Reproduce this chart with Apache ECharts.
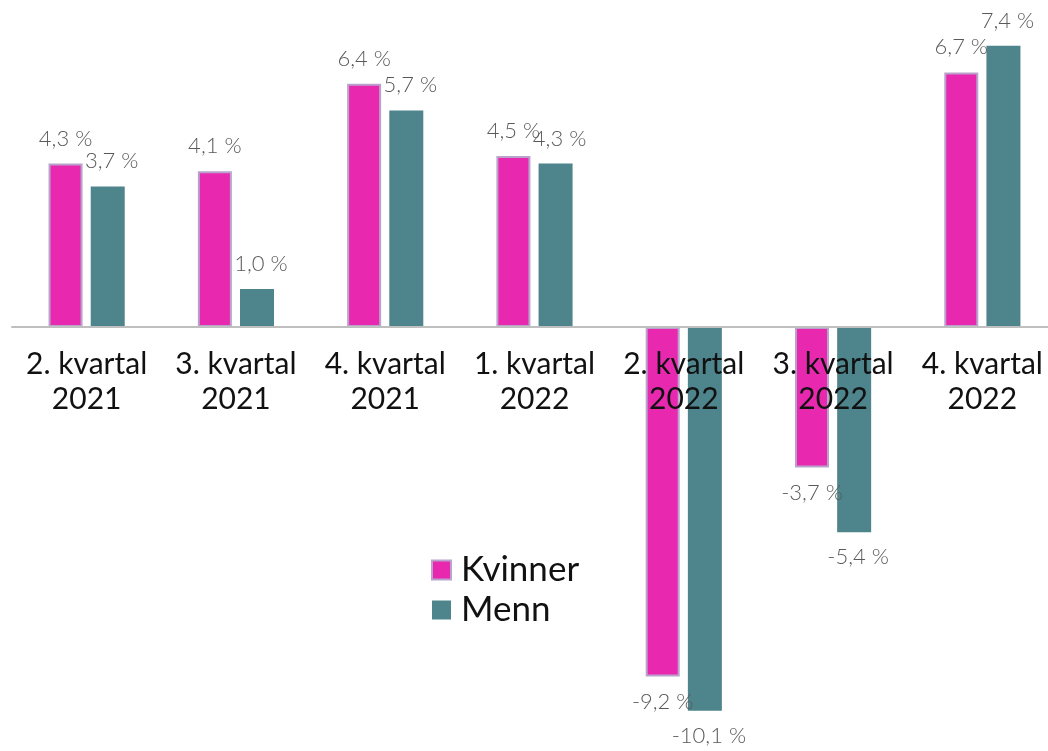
<!DOCTYPE html>
<html>
<head>
<meta charset="utf-8">
<script src="https://cdn.jsdelivr.net/npm/echarts@6/dist/echarts.min.js"></script>
<style>
  html, body { margin: 0; padding: 0; background: #fff; }
  #chart { width: 1048px; height: 751px; }
</style>
</head>
<body>
<div id="chart"></div>
<script>
// kategorier og verdier
const quarters = [
  '2. kvartal\n2021', '3. kvartal\n2021', '4. kvartal\n2021', '1. kvartal\n2022',
  '2. kvartal\n2022', '3. kvartal\n2022', '4. kvartal\n2022'
];
const kvinner = [4.3, 4.1, 6.4, 4.5, -9.2, -3.7, 6.7];
const menn = [3.7, 1.0, 5.7, 4.3, -10.1, -5.4, 7.4];

const fmt = v => v.toFixed(1).replace('.', ',') + ' %';

function withLabels(values) {
  return values.map(v => ({
    value: v,
    label: { position: v < 0 ? 'bottom' : 'top' }
  }));
}

const chart = echarts.init(document.getElementById('chart'));

const labelStyle = {
  show: true,
  formatter: p => fmt(p.value),
  fontFamily: 'Lato',
  fontWeight: 300,
  fontSize: 22,
  color: '#595959',
  distance: 14
};

const option = {
  animation: false,
  textStyle: { fontFamily: 'Lato' },
  grid: { left: 12, top: 23, width: 1045, height: 722, containLabel: false, outerBoundsMode: 'none' },
  legend: {
    orient: 'vertical',
    left: 426,
    top: 547,
    itemWidth: 19,
    itemHeight: 19,
    itemGap: 4,
    icon: 'rect',
    textStyle: { fontSize: 35, lineHeight: 36, color: '#111', fontFamily: 'Lato', padding: [0, 0, 0, 5] },
    data: ['Kvinner', 'Menn']
  },
  xAxis: {
    type: 'category',
    data: quarters,
    position: 'bottom',
    offset: -418,
    z: 5,
    axisLine: { onZero: false, lineStyle: { color: '#bfbfbf', width: 2 } },
    axisTick: { show: false },
    axisLabel: {
      interval: 0,
      hideOverlap: false,
      fontSize: 30,
      color: '#111',
      lineHeight: 35,
      margin: 20,
      fontFamily: 'Lato'
    }
  },
  yAxis: {
    type: 'value',
    min: -11,
    max: 8,
    show: false,
    splitLine: { show: false }
  },
  series: [
    {
      name: 'Kvinner',
      type: 'bar',
      data: withLabels(kvinner),
      barWidth: 34,
      barGap: '24%',
      itemStyle: { color: '#e829b0', borderColor: '#b9a2cc', borderWidth: 2 },
      label: Object.assign({}, labelStyle)
    },
    {
      name: 'Menn',
      type: 'bar',
      data: withLabels(menn),
      barWidth: 34,
      itemStyle: { color: '#4e848b' },
      label: Object.assign({}, labelStyle, { offset: [4, 0] })
    }
  ]
};

chart.setOption(option);
</script>
</body>
</html>
